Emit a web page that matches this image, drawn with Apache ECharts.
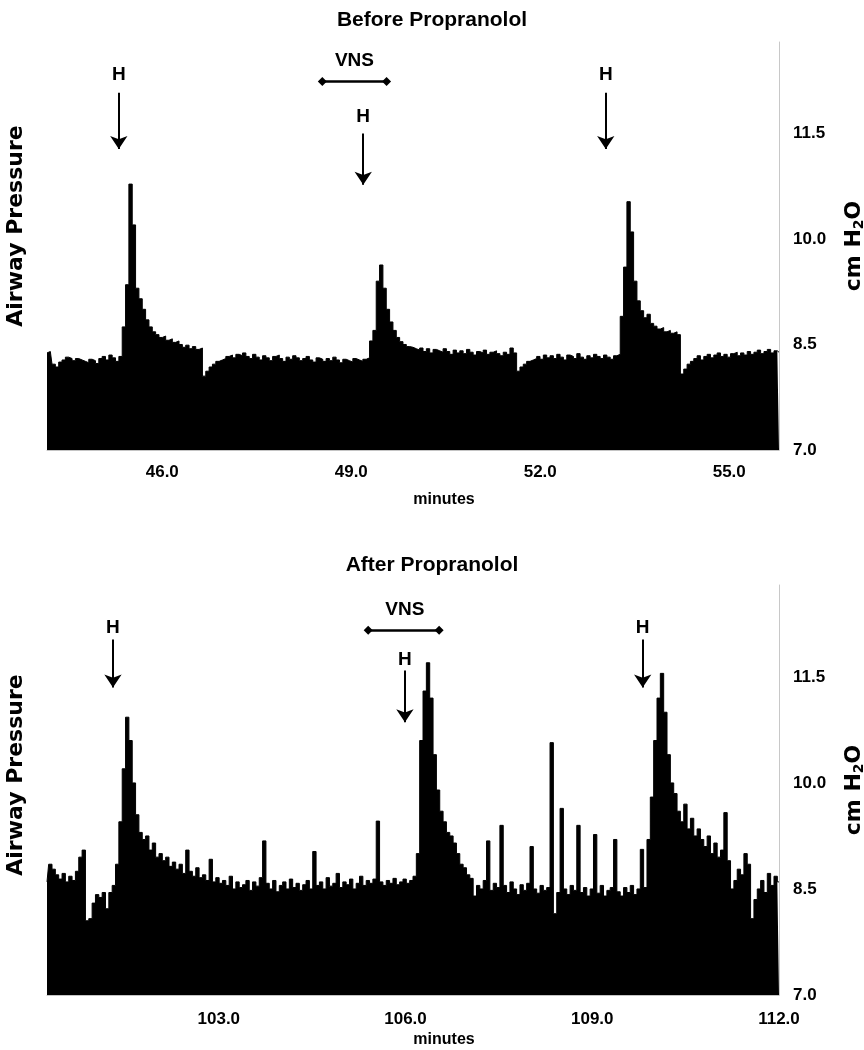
<!DOCTYPE html>
<html>
<head>
<meta charset="utf-8">
<script src="https://cdn.jsdelivr.net/npm/echarts@6/dist/echarts.min.js"></script>
<style>
  html, body { margin: 0; padding: 0; background: #fff; }
  #chart { width: 864px; height: 1050px; }
</style>
</head>
<body>
<div id="chart"></div>
<script>
// minutes covered by each trace
const beforeRange = [44.17, 55.79];
const afterRange = [100.24, 112.0];
const beforeTicks = [46, 49, 52, 55];
const afterTicks = [103, 106, 109, 112];
const pressureTicks = [7.0, 8.5, 10.0, 11.5];

// airway pressure (cm H2O), one value per sample
const beforePressure = [
  8.38, 8.40, 8.22, 8.18, 8.25, 8.28, 8.32, 8.30, 8.27, 8.30, 8.28, 8.26, 8.24, 8.29, 8.27, 8.23, 8.30, 8.33, 8.28, 8.35, 8.31, 8.26, 8.33,
  8.75, 9.35, 10.78, 10.20, 9.30, 9.15, 9.00, 8.85, 8.75, 8.68, 8.64, 8.60, 8.62, 8.56, 8.58, 8.53, 8.55, 8.50, 8.46, 8.49, 8.44, 8.47, 8.43, 8.45,
  8.05, 8.12, 8.18, 8.22, 8.26, 8.28,
  8.30, 8.33, 8.35, 8.31, 8.36, 8.34, 8.38, 8.33, 8.30, 8.36, 8.32, 8.28, 8.34, 8.31, 8.27, 8.33, 8.35, 8.30, 8.26, 8.32, 8.29, 8.34,
  8.31, 8.27, 8.30, 8.33, 8.28, 8.25, 8.31, 8.29, 8.26, 8.30, 8.27, 8.32, 8.28, 8.24, 8.29, 8.27, 8.25, 8.30, 8.28, 8.26, 8.29, 8.31, 8.55,
  8.70, 9.40, 9.63, 9.30, 9.00, 8.82, 8.70, 8.60, 8.54, 8.50, 8.47, 8.46, 8.44,
  8.42, 8.45, 8.40, 8.44, 8.38, 8.43, 8.41, 8.39, 8.44, 8.40, 8.36, 8.42, 8.38, 8.41, 8.37, 8.43, 8.39, 8.35, 8.40, 8.38, 8.42, 8.36,
  8.39, 8.41, 8.37, 8.34, 8.39, 8.36, 8.45, 8.38,
  8.12, 8.18, 8.22, 8.26, 8.28,
  8.30, 8.33, 8.29, 8.35, 8.31, 8.34, 8.30, 8.36, 8.32, 8.28, 8.35, 8.33, 8.30, 8.37, 8.32, 8.29, 8.34, 8.31, 8.36, 8.33, 8.30, 8.35,
  8.32, 8.29, 8.34, 8.36,
  8.90, 9.60, 10.53, 10.10, 9.40, 9.12, 8.98, 8.88, 8.93, 8.80, 8.76, 8.72, 8.74, 8.68, 8.70, 8.66, 8.68, 8.64,
  8.08, 8.15, 8.22, 8.26,
  8.30, 8.34, 8.28, 8.33, 8.36, 8.31, 8.35, 8.38, 8.33, 8.36, 8.32, 8.37, 8.39, 8.34, 8.38, 8.35, 8.40, 8.36, 8.39, 8.42, 8.37, 8.40,
  8.43, 8.38, 8.41, 8.39
];

const afterPressure = [
  8.60, 8.85, 8.78, 8.70, 8.64, 8.72, 8.60, 8.68, 8.62, 8.75, 8.95, 9.05,
  8.05, 8.08, 8.30, 8.42, 8.38, 8.45, 8.22, 8.45, 8.55,
  8.85, 9.45, 10.20, 10.93, 10.60, 10.00, 9.55, 9.30, 9.20, 9.25,
  9.05, 9.15, 8.95, 9.00, 8.90, 8.95, 8.82, 8.88, 8.78, 8.85, 8.72, 9.05, 8.75, 8.68, 8.80, 8.66, 8.70, 8.62, 8.92,
  8.60, 8.66, 8.58, 8.62, 8.55, 8.68, 8.50, 8.60, 8.52, 8.56, 8.62, 8.48, 8.60, 8.54, 8.66, 9.18,
  8.58, 8.50, 8.62, 8.46, 8.55, 8.60, 8.50, 8.64, 8.52, 8.58, 8.48, 8.56, 8.62, 8.50, 9.03,
  8.55, 8.60, 8.50, 8.66, 8.54, 8.58, 8.72, 8.52, 8.60, 8.56, 8.64, 8.50, 8.58, 8.68, 8.55, 8.62, 8.58, 8.64, 9.46,
  8.60, 8.55, 8.62, 8.58, 8.65, 8.56, 8.60, 8.64, 8.58, 8.62, 8.68,
  9.00, 10.60, 11.30, 11.70, 11.20, 10.40, 9.90, 9.60, 9.45, 9.30, 9.25, 9.15, 9.00, 8.85, 8.80, 8.70, 8.65,
  8.40, 8.55, 8.50, 8.62, 9.18, 8.48, 8.58, 8.52, 9.40,
  8.55, 8.45, 8.60, 8.50, 8.42, 8.56, 8.48, 8.58, 9.10,
  8.50, 8.44, 8.55, 8.48, 8.52, 10.57, 8.15, 8.45, 9.64,
  8.50, 8.42, 8.55, 8.48, 9.40, 8.45, 8.52, 8.40, 8.50, 9.27,
  8.44, 8.55, 8.40, 8.48, 8.52, 9.20, 8.46, 8.40, 8.52, 8.45, 8.55, 8.42, 8.50, 9.06, 8.52,
  9.20, 9.80, 10.60, 11.20, 11.55, 11.00, 10.40, 10.00, 9.85, 9.60, 9.45, 9.70, 9.35, 9.50, 9.25, 9.35, 9.20, 9.10, 9.25, 9.00,
  9.15, 8.95, 9.05, 9.58, 8.90,
  8.50, 8.62, 8.78, 8.70, 9.00, 8.85, 8.08, 8.35, 8.50, 8.62, 8.45, 8.72, 8.55, 8.68, 8.60
];

// annotations: [minute, cm H2O]
const beforeH = [[45.31, 12.33], [49.19, 11.74], [53.04, 12.33]];
const beforeArrows = [[45.31, 12.08, 11.28], [49.19, 11.50, 10.77], [53.04, 12.08, 11.28]];
const beforeVNS = [48.54, 49.56, 12.24];
const beforeVNSText = [49.05, 12.54];

const afterH = [[101.30, 12.20], [105.99, 11.74], [109.81, 12.20]];
const afterArrows = [[101.30, 12.03, 11.35], [105.99, 11.59, 10.86], [109.81, 12.03, 11.35]];
const afterVNS = [105.40, 106.54, 12.16];
const afterVNSText = [105.99, 12.45];

const sans = "'Liberation Sans Narrow', 'Liberation Sans', sans-serif";
const wide = "'DejaVu Sans', sans-serif";

function buildPanel(idx, range, ticks, pressure, hMarks, arrows, vns, vnsText, layout) {
  let n = pressure.length;
  let step = (range[1] - range[0]) / (n - 1);
  let times = pressure.map((v, i) => (range[0] + i * step).toFixed(3));
  let xCat = 2 * idx;
  let xVal = 2 * idx + 1;
  let yMain = 2 * idx;

  let labelData = hMarks.map(p => ({ name: "H", value: p }));
  labelData.push({ name: "VNS", value: vnsText });

  return {
    grid: {
      left: 47,
      right: 85,
      top: layout.top,
      height: layout.height,
      containLabel: false,
      outerBoundsMode: "none"
    },
    xAxis: [
      {
        type: "category",
        gridIndex: idx,
        data: times,
        show: false,
        boundaryGap: false
      },
      {
        type: "value",
        gridIndex: idx,
        min: range[0],
        max: range[1],
        position: "bottom",
        axisLine: { show: true, lineStyle: { color: "#c4c4c4", width: 1 } },
        axisTick: { show: false },
        splitLine: { show: false },
        axisLabel: {
          customValues: ticks,
          formatter: v => v.toFixed(1),
          fontFamily: sans,
          fontWeight: "bold",
          fontSize: 17,
          color: "#000",
          margin: layout.labelMargin
        },
        name: "minutes",
        nameLocation: "middle",
        nameGap: layout.nameGap,
        nameTextStyle: {
          fontFamily: sans,
          fontWeight: "bold",
          fontSize: 16,
          color: "#000",
          padding: [0, 0, 0, 62]
        }
      }
    ],
    yAxis: [
      {
        type: "value",
        gridIndex: idx,
        position: "right",
        min: 7,
        max: 12.8,
        axisLine: { show: true, lineStyle: { color: "#c8c8c8", width: 1 } },
        axisTick: { show: false },
        splitLine: { show: false },
        axisLabel: {
          customValues: pressureTicks,
          formatter: v => v.toFixed(1),
          fontFamily: sans,
          fontWeight: "bold",
          fontSize: 17,
          color: "#000",
          margin: 14
        },
        name: "cm H{s|2}O",
        nameLocation: "middle",
        nameRotate: 90,
        nameGap: 64,
        nameTextStyle: {
          fontFamily: wide,
          fontWeight: "bold",
          fontSize: 22,
          color: "#000",
          rich: {
            s: { fontFamily: wide, fontWeight: "bold", fontSize: 14, color: "#000", padding: [9, 0, 0, 0] }
          }
        }
      },
      {
        type: "value",
        gridIndex: idx,
        position: "left",
        min: 7,
        max: 12.8,
        axisLine: { show: false },
        axisTick: { show: false },
        axisLabel: { show: false },
        splitLine: { show: false },
        name: "Airway Pressure",
        nameLocation: "middle",
        nameRotate: 90,
        nameGap: 20,
        nameTextStyle: {
          fontFamily: wide,
          fontWeight: "bold",
          fontSize: 22,
          color: "#000",
          padding: [0, 0, 0, layout.namePad]
        }
      }
    ],
    series: [
      {
        type: "line",
        xAxisIndex: xCat,
        yAxisIndex: yMain,
        data: pressure,
        step: "middle",
        symbol: "none",
        silent: true,
        lineStyle: { color: "#000", width: 1 },
        areaStyle: { color: "#000", opacity: 1, origin: "start" }
      },
      {
        type: "lines",
        coordinateSystem: "cartesian2d",
        xAxisIndex: xVal,
        yAxisIndex: yMain,
        symbol: ["none", "arrow"],
        symbolSize: 13,
        silent: true,
        lineStyle: { color: "#000", width: 2, opacity: 1, curveness: 0 },
        data: arrows.map(a => ({ coords: [[a[0], a[1]], [a[0], a[2]]] }))
      },
      {
        type: "lines",
        coordinateSystem: "cartesian2d",
        xAxisIndex: xVal,
        yAxisIndex: yMain,
        symbol: ["diamond", "diamond"],
        symbolSize: 9,
        silent: true,
        lineStyle: { color: "#000", width: 2.5, opacity: 1, curveness: 0 },
        data: [{ coords: [[vns[0], vns[2]], [vns[1], vns[2]]] }]
      },
      {
        type: "scatter",
        xAxisIndex: xVal,
        yAxisIndex: yMain,
        symbolSize: 0,
        silent: true,
        itemStyle: { color: "#000", opacity: 1 },
        label: {
          show: true,
          position: "inside",
          formatter: "{b}",
          fontFamily: sans,
          fontWeight: "bold",
          fontSize: 19,
          color: "#000"
        },
        data: labelData
      }
    ]
  };
}

let myChart = echarts.init(document.getElementById("chart"));
let topPanel = buildPanel(0, beforeRange, beforeTicks, beforePressure, beforeH, beforeArrows, beforeVNS, beforeVNSText,
  { top: 42, height: 408, labelMargin: 14, nameGap: 42, namePad: 40 });
let bottomPanel = buildPanel(1, afterRange, afterTicks, afterPressure, afterH, afterArrows, afterVNS, afterVNSText,
  { top: 585, height: 410, labelMargin: 16, nameGap: 37, namePad: 30 });

let titleStyle = { fontFamily: sans, fontWeight: "bold", fontSize: 21, color: "#000" };
let option = {
  animation: false,
  backgroundColor: "#fff",
  title: [
    { text: "Before Propranolol", left: "center", top: 5, textStyle: titleStyle },
    { text: "After Propranolol", left: "center", top: 550, textStyle: titleStyle }
  ],
  grid: [topPanel.grid, bottomPanel.grid],
  xAxis: topPanel.xAxis.concat(bottomPanel.xAxis),
  yAxis: topPanel.yAxis.concat(bottomPanel.yAxis),
  series: topPanel.series.concat(bottomPanel.series)
};
myChart.setOption(option);
window.addEventListener("resize", () => {
  myChart.resize();
});
</script>
</body>
</html>
